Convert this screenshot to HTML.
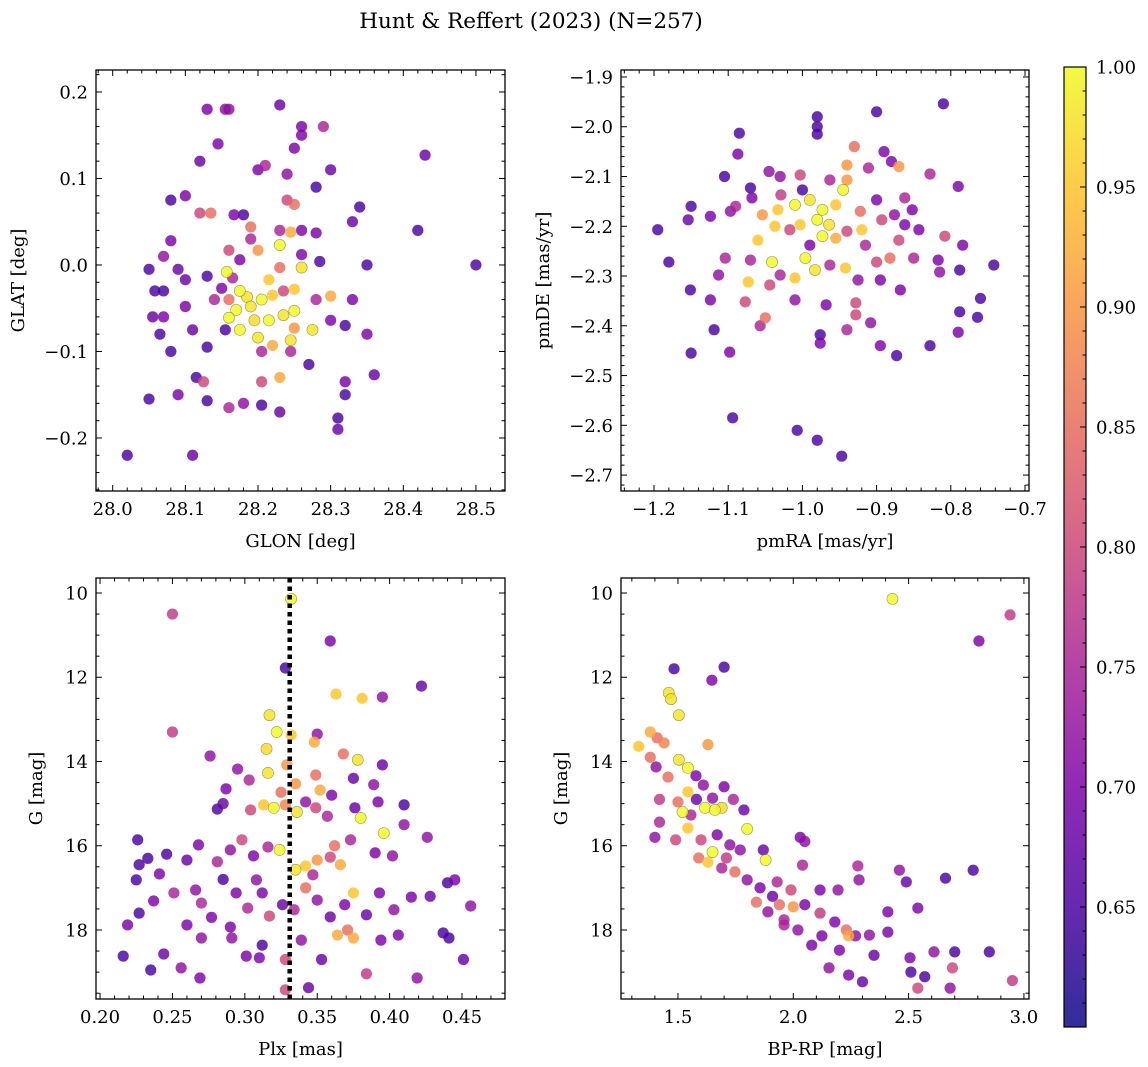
<!DOCTYPE html>
<html><head><meta charset="utf-8"><style>
body{margin:0;background:#fff;}
svg{display:block;font-family:"DejaVu Serif","Liberation Serif",serif;}
</style></head><body>
<svg id="fig" width="1148" height="1067" viewBox="0 0 1148 1067" xmlns="http://www.w3.org/2000/svg">
<defs><linearGradient id="cbg" x1="0" y1="1" x2="0" y2="0"></linearGradient></defs>
<text x="531" y="28" font-size="21.5" text-anchor="middle">Hunt &amp; Reffert (2023) (N=257)</text>
</svg>
<script>
// ---- Panel 1: GLON vs GLAT ----
const p1Glon=[28.50,28.43,28.42,28.02,28.11,28.05,28.13,28.155,28.16,28.23,28.26,28.29,28.26,28.145,28.12,28.25,28.30,28.28,28.20,28.21,28.24,28.08,28.10,28.12,28.135,28.19,28.19,28.24,28.25,28.26,28.33,28.34,28.08,28.07,28.05,28.09,28.07,28.055,28.07,28.065,28.08,28.10,28.11,28.13,28.115,28.125,28.13,28.09,28.16,28.18,28.205,28.23,28.205,28.23,28.245,28.27,28.31,28.31,28.32,28.32,28.32,28.35,28.36,28.35,28.33,28.285,28.30,28.28,28.28,28.245,28.23,28.20,28.157,28.165,28.175,28.185,28.17,28.19,28.205,28.22,28.235,28.25,28.26,28.23,28.215,28.195,28.215,28.235,28.25,28.25,28.275,28.175,28.16,28.2,28.22,28.16,28.14,28.155,28.245,28.205,28.15,28.13,28.26,28.175,28.18,28.167,28.16,28.23,28.30,28.10,28.058];
const p1Glat=[0.00,0.127,0.04,-0.22,-0.22,-0.155,0.18,0.18,0.18,0.185,0.16,0.16,0.15,0.14,0.12,0.135,0.11,0.09,0.11,0.115,0.105,0.075,0.08,0.06,0.06,0.044,0.03,0.075,0.07,0.04,0.05,0.067,0.028,0.01,-0.005,-0.005,-0.03,-0.06,-0.06,-0.08,-0.10,-0.048,-0.075,-0.095,-0.13,-0.135,-0.157,-0.15,-0.165,-0.16,-0.162,-0.17,-0.135,-0.13,-0.10,-0.115,-0.177,-0.19,-0.135,-0.15,-0.07,-0.08,-0.127,0.0,-0.04,0.004,-0.036,-0.04,0.037,0.038,0.023,0.017,-0.008,-0.015,-0.03,-0.037,-0.052,-0.048,-0.04,-0.035,-0.03,-0.028,-0.003,-0.003,-0.017,-0.064,-0.064,-0.058,-0.053,-0.073,-0.075,-0.075,-0.061,-0.084,-0.093,-0.04,-0.04,-0.075,-0.087,-0.10,-0.027,-0.013,0.012,0.006,0.058,0.058,0.017,0.04,-0.064,-0.017,-0.03];
const p1Prob=[0.65,0.68,0.65,0.65,0.68,0.65,0.7,0.72,0.72,0.68,0.7,0.75,0.7,0.7,0.68,0.7,0.68,0.65,0.7,0.75,0.72,0.65,0.7,0.8,0.85,0.85,0.75,0.8,0.85,0.7,0.68,0.65,0.7,0.72,0.65,0.68,0.65,0.68,0.7,0.65,0.65,0.7,0.68,0.65,0.65,0.8,0.65,0.7,0.75,0.72,0.65,0.68,0.8,0.92,0.75,0.65,0.65,0.68,0.7,0.65,0.65,0.7,0.68,0.65,0.7,0.65,0.92,0.75,0.7,0.92,1.0,0.9,1.0,0.75,1.0,0.98,1.0,0.98,1.0,0.95,0.8,0.95,0.98,0.85,0.95,0.97,1.0,0.98,1.0,0.9,0.98,1.0,1.0,0.98,0.92,0.85,0.75,0.65,0.98,0.75,0.7,0.65,0.7,0.7,0.65,0.7,0.8,0.75,0.7,0.68,0.65];
// ---- Panel 2: pmRA vs pmDE ----
const p2Pmra=[-0.81,-0.90,-0.98,-0.98,-0.98,-1.085,-1.087,-0.93,-0.89,-0.88,-1.105,-1.045,-1.03,-1.003,-0.94,-0.94,-0.911,-0.87,-0.828,-0.79,-1.15,-1.07,-1.068,-1.09,-1.124,-1.154,-1.195,-1.097,-1.054,-1.033,-1.037,-1.01,-0.99,-0.973,-0.955,-0.945,-0.98,-0.964,-1.003,-1.017,-0.973,-0.955,-0.94,-0.922,-0.92,-0.915,-0.893,-0.90,-0.876,-0.862,-0.852,-0.843,-0.808,-0.784,-0.742,-0.788,-0.817,-0.815,-0.85,-0.882,-0.9,-0.895,-0.868,-0.925,-0.942,-0.963,-0.983,-0.996,-1.01,-1.03,-1.041,-1.044,-1.07,-1.073,-1.077,-1.104,-1.113,-1.124,-1.119,-1.151,-1.18,-1.15,-1.098,-1.094,-1.007,-0.98,-0.947,-0.976,-0.976,-1.05,-1.057,-0.94,-0.928,-0.908,-0.895,-0.873,-0.828,-0.79,-0.788,-0.76,-0.764,-0.928,-0.968,-1.01,-0.99,-0.963,-1.029,-1.0,-1.06,-0.87,-0.862];
const p2Pmde=[-1.954,-1.97,-1.98,-2.0,-2.015,-2.013,-2.055,-2.04,-2.05,-2.07,-2.10,-2.09,-2.1,-2.097,-2.077,-2.107,-2.083,-2.08,-2.095,-2.12,-2.16,-2.123,-2.143,-2.16,-2.18,-2.187,-2.207,-2.17,-2.177,-2.167,-2.2,-2.157,-2.147,-2.167,-2.157,-2.127,-2.187,-2.197,-2.197,-2.207,-2.22,-2.224,-2.21,-2.17,-2.207,-2.238,-2.187,-2.147,-2.177,-2.197,-2.167,-2.207,-2.22,-2.238,-2.278,-2.288,-2.268,-2.292,-2.264,-2.264,-2.272,-2.308,-2.328,-2.308,-2.284,-2.278,-2.288,-2.264,-2.304,-2.298,-2.272,-2.318,-2.268,-2.312,-2.352,-2.264,-2.298,-2.348,-2.408,-2.328,-2.272,-2.455,-2.453,-2.585,-2.61,-2.63,-2.662,-2.418,-2.435,-2.384,-2.4,-2.408,-2.378,-2.394,-2.44,-2.46,-2.44,-2.413,-2.372,-2.345,-2.383,-2.354,-2.358,-2.348,-2.238,-2.107,-2.137,-2.127,-2.228,-2.228,-2.143];
const p2Prob=[0.65,0.65,0.65,0.65,0.65,0.65,0.7,0.85,0.7,0.7,0.65,0.72,0.72,0.8,0.9,0.9,0.75,0.9,0.75,0.7,0.65,0.65,0.7,0.75,0.7,0.68,0.65,0.72,0.9,0.95,0.95,1.0,0.98,1.0,0.95,1.0,1.0,0.98,0.95,0.8,1.0,0.92,0.8,0.85,0.95,0.75,0.8,0.7,0.72,0.7,0.7,0.7,0.8,0.7,0.65,0.65,0.7,0.72,0.75,0.85,0.8,0.7,0.7,0.72,0.95,0.75,0.98,1.0,0.95,0.75,1.0,0.8,0.75,0.95,0.8,0.75,0.72,0.7,0.65,0.65,0.65,0.65,0.7,0.65,0.65,0.65,0.65,0.65,0.7,0.85,0.75,0.75,0.8,0.72,0.7,0.65,0.65,0.7,0.65,0.65,0.65,0.8,0.7,0.72,0.7,0.75,0.78,0.65,0.95,0.8,0.75];
// ---- Panel 3: Plx vs G ----
const p3Plx=[0.332,0.25,0.359,0.328,0.422,0.363,0.381,0.395,0.317,0.25,0.322,0.332,0.35,0.348,0.378,0.368,0.276,0.315,0.316,0.329,0.295,0.303,0.325,0.335,0.349,0.352,0.36,0.375,0.389,0.395,0.287,0.285,0.281,0.304,0.313,0.32,0.328,0.336,0.342,0.349,0.357,0.376,0.392,0.396,0.38,0.41,0.41,0.39,0.402,0.426,0.373,0.362,0.366,0.359,0.35,0.342,0.335,0.324,0.316,0.306,0.298,0.29,0.281,0.268,0.26,0.246,0.226,0.227,0.233,0.241,0.251,0.225,0.237,0.227,0.219,0.266,0.27,0.277,0.285,0.294,0.302,0.312,0.317,0.326,0.334,0.342,0.35,0.359,0.369,0.375,0.384,0.393,0.403,0.415,0.428,0.44,0.445,0.456,0.437,0.441,0.451,0.419,0.406,0.394,0.384,0.364,0.371,0.353,0.344,0.339,0.328,0.328,0.31,0.312,0.301,0.291,0.27,0.269,0.256,0.244,0.216,0.235,0.26,0.29,0.375,0.347,0.308];
const p3G=[10.14,10.5,11.14,11.78,12.21,12.4,12.5,12.47,12.9,13.3,13.3,13.37,13.35,13.54,13.96,13.82,13.87,13.7,14.27,14.08,14.18,14.44,14.73,14.53,14.32,14.68,14.8,14.4,14.55,14.08,14.65,15.0,15.13,15.15,15.03,15.1,15.03,15.2,14.96,15.1,15.3,15.1,14.96,15.7,15.34,15.5,15.03,16.17,16.24,15.8,15.86,16.0,16.45,16.27,16.34,16.48,16.57,16.1,16.03,16.24,15.86,16.1,16.38,15.98,16.34,16.2,15.86,16.45,16.3,16.67,17.12,16.81,17.31,17.6,17.88,17.05,17.36,17.7,16.8,17.12,17.48,17.12,17.67,17.4,17.52,17.0,17.29,17.69,17.4,17.12,17.64,17.12,17.52,17.22,17.2,16.88,16.81,17.43,18.07,18.19,18.7,19.14,18.12,18.24,19.04,18.12,18.0,18.7,19.37,18.24,18.7,19.42,18.66,18.36,18.62,18.19,18.19,19.14,18.9,18.57,18.62,18.95,17.88,17.93,18.19,16.69,16.81];
const p3Prob=[1.0,0.78,0.7,0.65,0.68,0.95,0.95,0.72,0.98,0.78,1.0,0.95,0.72,0.92,0.98,0.85,0.72,0.97,0.98,0.9,0.72,0.75,0.85,0.9,0.85,0.92,0.7,0.68,0.72,0.68,0.7,0.68,0.65,0.8,0.95,1.0,0.88,0.98,0.72,0.8,0.75,0.68,0.7,1.0,1.0,0.72,0.65,0.7,0.72,0.72,0.75,0.85,0.92,0.8,0.9,0.95,0.98,1.0,0.75,0.7,0.8,0.72,0.75,0.7,0.68,0.65,0.65,0.65,0.65,0.7,0.75,0.65,0.7,0.65,0.7,0.72,0.75,0.7,0.65,0.7,0.75,0.7,0.8,0.68,0.75,0.85,0.72,0.68,0.7,0.95,0.68,0.7,0.72,0.7,0.68,0.65,0.7,0.72,0.65,0.65,0.68,0.72,0.7,0.7,0.78,0.92,0.85,0.68,0.68,0.72,0.8,0.8,0.7,0.65,0.7,0.72,0.72,0.7,0.72,0.68,0.65,0.65,0.7,0.7,0.92,0.75,0.72];
// ---- Panel 4: BP-RP vs G ----
const p4Bprp=[2.43,2.94,2.805,1.483,1.7,1.46,1.47,1.647,1.504,1.33,1.38,1.41,1.44,1.63,1.38,1.405,1.504,1.543,1.457,1.578,1.61,1.543,1.42,1.5,1.58,1.65,1.7,1.74,1.52,1.617,1.66,1.69,1.786,1.8,1.556,1.42,1.4,1.49,1.543,1.6,1.67,1.725,1.65,1.63,1.59,1.71,1.77,1.87,1.88,2.03,2.05,1.69,1.747,1.8,1.856,1.91,1.93,1.99,1.84,1.89,1.94,2.0,2.05,2.116,2.18,2.23,2.27,2.124,2.194,2.285,2.28,2.24,2.2,2.155,2.08,2.02,1.96,2.33,2.41,2.35,2.24,2.3,2.506,2.51,2.54,2.57,2.61,2.68,2.69,2.7,2.66,2.78,2.95,2.85,2.54,2.49,2.41,2.46,1.96,2.04,2.116];
const p4G=[10.14,10.52,11.14,11.8,11.76,12.37,12.52,12.07,12.9,13.64,13.3,13.44,13.56,13.6,13.9,14.13,13.96,14.15,14.37,14.34,14.56,14.72,14.9,14.96,14.9,14.87,14.6,14.9,15.2,15.1,15.15,15.1,15.15,15.6,15.27,15.44,15.8,15.86,15.58,15.86,15.74,15.98,16.15,16.39,16.29,16.29,16.1,16.1,16.34,15.8,15.9,16.53,16.62,16.81,17.0,17.2,16.86,17.05,17.34,17.57,17.4,17.45,17.4,17.6,17.81,18.0,18.14,18.14,17.05,16.81,16.48,18.14,18.48,18.9,18.36,18.0,17.88,18.12,18.05,18.6,19.07,19.23,18.66,19.0,19.38,19.11,18.52,19.38,18.9,18.52,16.77,16.58,19.2,18.52,17.48,16.86,17.57,16.58,17.76,16.46,17.05];
const p4Prob=[1.0,0.78,0.7,0.65,0.65,0.98,0.98,0.7,0.98,0.95,0.92,0.85,0.88,0.9,0.85,0.72,0.98,1.0,0.85,0.7,0.72,0.95,0.78,0.85,0.68,0.72,0.7,0.75,1.0,1.0,1.0,0.97,0.68,1.0,0.75,0.75,0.72,0.8,0.95,0.8,0.7,0.72,1.0,0.95,0.85,0.78,0.72,0.68,1.0,0.7,0.72,0.75,0.85,0.72,0.7,0.68,0.75,0.8,0.85,0.72,0.85,0.9,0.7,0.78,0.7,0.85,0.72,0.7,0.72,0.72,0.75,0.92,0.7,0.72,0.7,0.72,0.75,0.72,0.7,0.68,0.7,0.68,0.7,0.65,0.8,0.65,0.72,0.72,0.8,0.65,0.65,0.65,0.78,0.65,0.7,0.68,0.7,0.72,0.75,0.75,0.7];
const plxRef=[0.331];
const cbTicks=[0.65,0.70,0.75,0.80,0.85,0.90,0.95,1.00];

const FS=18;
const NS='http://www.w3.org/2000/svg';
const svg=document.getElementById('fig');
function mk(tag,attrs,parent){const e=document.createElementNS(NS,tag);for(const k in attrs)e.setAttribute(k,attrs[k]);(parent||svg).appendChild(e);return e;}
const stops=[[0,[13,8,135]],[0.125,[75,3,161]],[0.25,[125,3,168]],[0.375,[168,34,150]],[0.5,[203,70,121]],[0.625,[229,107,93]],[0.75,[248,148,65]],[0.875,[253,195,40]],[1,[240,249,33]]];
const CMIN=0.60,CMAX=1.0;
function plasma(t){t=Math.max(0,Math.min(1,t));for(let i=1;i<stops.length;i++){if(t<=stops[i][0]){const a=stops[i-1],b=stops[i],f=(t-a[0])/(b[0]-a[0]);const c=a[1].map((v,j)=>Math.round(v+(b[1][j]-v)*f));return 'rgb('+c.join(',')+')';}}return 'rgb(240,249,33)';}
function colorFor(p){return plasma((p-CMIN)/(CMAX-CMIN));}
function fmt(v,d){const s=Math.abs(v).toFixed(d);return (v<-1e-9?'\u2212':'')+s;}

function panel(o){
  const g=mk('g',{});
  
  
  const {L,R,T,B}=o;
  const sx=v=>L+(v-o.x0)/(o.x1-o.x0)*(R-L);
  const sy=v=>B-(v-o.y0)/(o.y1-o.y0)*(B-T);
  const pg=mk('g',{},g);
  
  
  const idx=o.xs.map((_,i)=>i).sort((a,b)=>o.ps[a]-o.ps[b]);
  idx.forEach(i=>{
    const c=mk('circle',{cx:sx(o.xs[i]),cy:sy(o.ys[i]),r:5.6,fill:colorFor(o.ps[i]),'fill-opacity':0.82,stroke:o.ps[i]>0.95?'rgba(90,90,40,0.6)':'none','stroke-width':0.6},pg);
    
    
  });
  if(o.extra)o.extra(g,sx,sy);
  const fr=mk('rect',{x:L,y:T,width:R-L,height:B-T,fill:'none',stroke:'#000','stroke-width':1.3},g);
  
  
  const eps=1e-9;
  for(let v=Math.ceil(o.x0/o.xmin-eps)*o.xmin;v<=o.x1+eps;v+=o.xmin){
    const x=sx(v);const isMaj=Math.abs(v/o.xmaj-Math.round(v/o.xmaj))<1e-6;const len=isMaj?6:3.5;
    mk('line',{x1:x,x2:x,y1:B,y2:B-len,stroke:'#000','stroke-width':1},g);
    mk('line',{x1:x,x2:x,y1:T,y2:T+len,stroke:'#000','stroke-width':1},g);
    if(isMaj){const t=mk('text',{x:x,y:B+24,'font-size':FS,'text-anchor':'middle'},g);t.textContent=fmt(v,o.xd);
      }
  }
  for(let v=Math.ceil(o.y0/o.ymin-eps)*o.ymin;v<=o.y1+eps;v+=o.ymin){
    const y=sy(v);const isMaj=Math.abs(v/o.ymaj-Math.round(v/o.ymaj))<1e-6;const len=isMaj?6:3.5;
    mk('line',{x1:L,x2:L+len,y1:y,y2:y,stroke:'#000','stroke-width':1},g);
    mk('line',{x1:R,x2:R-len,y1:y,y2:y,stroke:'#000','stroke-width':1},g);
    if(isMaj){const t=mk('text',{x:L-8,y:y+6.5,'font-size':FS,'text-anchor':'end'},g);t.textContent=fmt(v,o.yd);
      }
  }
  const xl=mk('text',{x:(L+R)/2,y:B+56,'font-size':FS,'text-anchor':'middle'},g);xl.textContent=o.xlab;
  
  const yl=mk('text',{x:0,y:0,'font-size':FS,'text-anchor':'middle',transform:'translate('+o.ylx+','+((T+B)/2)+') rotate(-90)'},g);yl.textContent=o.ylab;
  
}
panel({name:'glon-glat-panel',L:96,R:505,T:70,B:491,x0:27.977,x1:28.54,y0:-0.2613,y1:0.2254,xmaj:0.1,xmin:0.02,ymaj:0.1,ymin:0.02,xd:1,yd:1,xs:p1Glon,ys:p1Glat,ps:p1Prob,xlab:'GLON [deg]',ylab:'GLAT [deg]',ylx:24});
panel({name:'pm-panel',L:621,R:1029,T:70,B:491,x0:-1.2445,x1:-0.6946,y0:-2.732,y1:-1.886,xmaj:0.1,xmin:0.02,ymaj:0.1,ymin:0.02,xd:1,yd:1,xs:p2Pmra,ys:p2Pmde,ps:p2Prob,xlab:'pmRA [mas/yr]',ylab:'pmDE [mas/yr]',ylx:549});
panel({name:'plx-g-panel',L:96,R:505,T:578,B:999,x0:0.1972,x1:0.4797,y0:19.638,y1:9.644,xmaj:0.05,xmin:0.01,ymaj:2,ymin:0.5,xd:2,yd:0,xs:p3Plx,ys:p3G,ps:p3Prob,xlab:'Plx [mas]',ylab:'G [mag]',ylx:42,
 extra:(g,sx,sy)=>{const x=sx(plxRef[0]);const l=mk('line',{x1:x,x2:x,y1:578,y2:999,stroke:'#000','stroke-width':4.5,'stroke-dasharray':'4.5,4'},g);
 }});
panel({name:'cmd-panel',L:621,R:1029,T:578,B:999,x0:1.253,x1:3.022,y0:19.638,y1:9.644,xmaj:0.5,xmin:0.1,ymaj:2,ymin:0.5,xd:1,yd:0,xs:p4Bprp,ys:p4G,ps:p4Prob,xlab:'BP-RP [mag]',ylab:'G [mag]',ylx:567});
(function(){
  const g=mk('g',{});
  
  
  const L=1064,R=1086,T=67,B=1027;
  const grad=document.getElementById('cbg');
  for(let i=0;i<=16;i++){const t=i/16;mk('stop',{offset:t,'stop-color':plasma(t),'stop-opacity':0.85},grad);}
  mk('rect',{x:L,y:T,width:R-L,height:B-T,fill:'url(#cbg)'},g);
  mk('rect',{x:L,y:T,width:R-L,height:B-T,fill:'none',stroke:'#000','stroke-width':1.2},g);
  const sy=v=>B-(v-CMIN)/(CMAX-CMIN)*(B-T);
  for(let k=Math.round(CMIN*100);k<=100;k++){const v=k/100;const y=sy(v);const maj=k%5===0;
    mk('line',{x1:R,x2:R-(maj?6:3.5),y1:y,y2:y,stroke:'#000','stroke-width':1},g);}
  cbTicks.forEach(v=>{const y=sy(v);const t=mk('text',{x:R+10,y:y+6.5,'font-size':FS},g);t.textContent=v.toFixed(2);
    });
})();
</script>
<script>
(function(){
  const NS='http://www.w3.org/2000/svg';const svg=document.getElementById('fig');
  [[96,505],[621,1029]].forEach(([L,R])=>{
    const T=578,B=999,y0=19.638,y1=9.644;
    const sy=v=>B-(v-y0)/(y1-y0)*(B-T);
    const g=document.createElementNS(NS,'g');svg.appendChild(g);
    
    
    for(let k=20;k<=39;k++){const v=k/2;if(v<y1||v>y0)continue;const y=sy(v);const maj=k%4===0;const len=maj?6:3.5;
      [[L,L+len],[R,R-len]].forEach(([a,b])=>{const l=document.createElementNS(NS,'line');l.setAttribute('x1',a);l.setAttribute('x2',b);l.setAttribute('y1',y);l.setAttribute('y2',y);l.setAttribute('stroke','#000');g.appendChild(l);});
      if(maj){const t=document.createElementNS(NS,'text');t.setAttribute('x',L-8);t.setAttribute('y',y+6.5);t.setAttribute('font-size',18);t.setAttribute('text-anchor','end');t.textContent=String(v);
        
        
        g.appendChild(t);}
    }
  });
})();
</script>
</body></html>
